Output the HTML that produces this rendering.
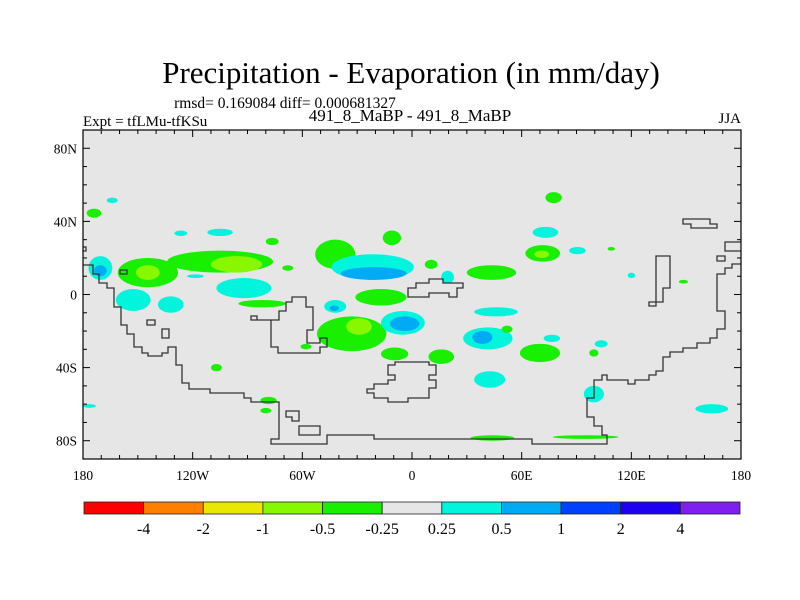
<!DOCTYPE html>
<html><head><meta charset="utf-8"><style>
html,body{margin:0;padding:0;background:#fff}
svg{display:block}
text{font-family:"Liberation Serif",serif;fill:#000}
</style></head><body>
<svg id="chart" width="800" height="600" viewBox="0 0 800 600">
<text x="411" y="83" font-size="31" text-anchor="middle">Precipitation - Evaporation (in mm/day)</text>
<text x="285" y="108" font-size="15.5" text-anchor="middle">rmsd= 0.169084 diff= 0.000681327</text>
<text x="410" y="121" font-size="17" text-anchor="middle">491_8_MaBP - 491_8_MaBP</text>
<text x="83" y="126" font-size="15">Expt = tfLMu-tfKSu</text>
<text x="741" y="123" font-size="15" text-anchor="end">JJA</text>
<g id="plot">
<rect x="83" y="130" width="658" height="329" fill="#e6e6e6"/>
<g id="blobs"></g>
<g id="coast" fill="none" stroke="#333" stroke-width="1.3">
<polyline points="83,265 93,265 93,274 99,274 99,283 107,283 107,288 114,288 114,307 121,307 121,325 127,325 127,334 134,334 134,347 142,347 142,353 148,353 148,356 162,356 162,353 168,353 168,347 176,347 176,365 182,365 182,383 189,383 189,389 210,389 210,393 244,393 244,398 251,398 251,402 279,402 279,439 271,439 271,444 327,444 327,435 374,435 374,439 532,439 532,444 607,444 607,435 602,435 602,426 594,426 594,417 587,417 587,398 594,398 594,380 602,380 602,375 607,375 607,380 628,380 628,384 635,384 635,380 649,380 649,375 656,375 656,371 663,371 663,357 670,357 670,352 683,352 683,348 697,348 697,343 710,343 710,338 717,338 717,329 725,329 725,311 717,311 717,274 725,274 725,268 732,268 732,264 741,264"/>
<polygon points="120,270 127,270 127,274 120,274"/>
<polygon points="147,320 155,320 155,325 147,325"/>
<polygon points="162,329 169,329 169,338 162,338"/>
<polygon points="251,316 257,316 257,320 271,320 271,347 278,347 278,353 320,353 320,347 327,347 327,338 320,338 320,343 307,343 307,330 313,330 313,307 306,307 306,297 292,297 292,302 286,302 286,311 279,311 279,320 257,320 251,320"/>
<polygon points="408,288 408,297 429,297 429,293 449,293 449,297 457,297 457,288 463,288 463,283 443,283 443,279 429,279 429,283 416,283 416,288"/>
<polygon points="395,362 429,362 429,365 436,365 436,375 429,375 429,380 436,380 436,388 429,388 429,398 408,398 408,402 388,402 388,398 374,398 374,393 367,393 367,389 374,389 374,384 388,384 388,380 395,380 395,375 388,375 388,365 395,365"/>
<polygon points="286,411 299,411 299,421 292,421 292,417 286,417"/>
<polygon points="299,426 320,426 320,435 299,435"/>
<polygon points="656,256 670,256 670,288 663,288 663,302 656,302 656,306 649,306 649,302 656,302"/>
<polygon points="683,219 710,219 710,224 717,224 717,228 691,228 691,224 683,224"/>
<polyline points="741,242 725,242 725,251 741,251"/>
<polygon points="717,256 725,256 725,261 717,261"/>
<polyline points="83,247 86,247 86,251 83,251"/>
</g>
<rect x="83" y="130" width="658" height="329" fill="none" stroke="#000" stroke-width="1.2"/>
<g id="ticks" stroke="#000" stroke-width="1"></g>
<g id="labels" font-size="13.5"></g>
</g>
<g id="colorbar"></g>
</svg>
<script>
// contour levels and colors
const levels = [-4,-2,-1,-0.5,-0.25,0.25,0.5,1,2,4];
const levelLabels = ["-4","-2","-1","-0.5","-0.25","0.25","0.5","1","2","4"];
const fillColors = ["#ff0000","#ff8000","#e8e800","#88f800","#18f000","#e6e6e6","#00f5dc","#00aaf5","#0040ff","#2000f0","#8020f0"];
// blobs: lon range, lat range, value
const blobLon0 = [-167,-178,-161,-151,-134,-110,-177,-174,-162,-139,-107,-112,-130,-95,-53,-16,-44,-39,-31,-52,-36,-17,-12,-48,-45,-17,9,30,16,34,28,33,49,73,66,62,67,86,107,72,59,97,100,34,94,155,32,77,146,118,-110,-83,-83,-180,-80,-71,-123,7,-61];
const blobLon1 = [-161,-170,-128,-138,-76,-82,-164,-167,-143,-125,-77,-98,-123,-69,-31,-6,1,-3,-3,-14,-22,7,4,-36,-40,-2,23,57,23,58,55,44,55,82,80,81,75,95,111,81,81,102,107,51,105,173,56,113,151,122,-104,-74,-77,-173,-73,-65,-114,14,-55];
const blobLat0 = [53,47,20,16,24,21,21,16,3,-1,9,36,35,-3,30,35,22,15,3,-12,-13,-9,-12,-3,-6,-29,-30,16,13,-7,-18,-20,-17,56,37,27,24,26,26,-22,-27,-30,-25,-42,-50,-60,-77,-77,8,12,-38,-56,-62,-60,31,16,11,19,-27];
const blobLat1 = [50,42,4,8,12,12,8,10,-9,-10,-2,32,32,-7,14,27,8,8,-6,-31,-22,-22,-20,-10,-9,-36,-38,8,6,-12,-30,-27,-21,50,31,18,20,22,24,-26,-37,-34,-29,-51,-59,-65,-80,-79,6,9,-42,-60,-65,-62,27,13,9,14,-30];
const blobVal = [0.4,-0.4,-0.4,-0.7,-0.4,-0.7,0.4,0.7,0.4,0.4,0.4,0.4,0.4,-0.4,-0.4,-0.4,0.4,0.7,-0.4,-0.4,-0.7,0.4,0.7,0.4,0.7,-0.4,-0.4,-0.4,0.4,0.4,0.4,0.7,-0.4,-0.4,0.4,-0.4,-0.7,0.4,-0.4,0.4,-0.4,-0.4,0.4,0.4,0.4,0.4,-0.4,-0.4,-0.4,0.4,-0.4,-0.4,-0.4,0.4,-0.4,-0.4,0.4,-0.4,-0.4];
const lonTicks = [-180,-120,-60,0,60,120,180];
const lonTickLabels = ["180","120W","60W","0","60E","120E","180"];
const latTicks = [80,40,0,-40,-80];
const latTickLabels = ["80N","40N","0","40S","80S"];

const NS='http://www.w3.org/2000/svg';
const X0=83,X1=741,Y0=130,Y1=459;
const xS = lon => X0 + (lon+180)/360*(X1-X0);
const yS = lat => Y0 + (90-lat)/180*(Y1-Y0);
function colorFor(v){let i=0;while(i<levels.length&&v>=levels[i])i++;return fillColors[i];}
function mk(tag,parent){const e=document.createElementNS(NS,tag);parent.appendChild(e);return e;}

const bg=document.getElementById('blobs');
const order=blobVal.map((v,i)=>i).sort((a,b)=>Math.abs(blobVal[a])-Math.abs(blobVal[b]));
order.forEach(i=>{
  const e=mk('ellipse',bg);
  
  
  const xa=xS(blobLon0[i]),xb=xS(blobLon1[i]),ya=yS(blobLat0[i]),yb=yS(blobLat1[i]);
  e.setAttribute('cx',(xa+xb)/2);e.setAttribute('cy',(ya+yb)/2);
  e.setAttribute('rx',Math.abs(xb-xa)/2);e.setAttribute('ry',Math.abs(yb-ya)/2);
  e.setAttribute('fill',colorFor(blobVal[i]));
});

const tg=document.getElementById('ticks'), lg=document.getElementById('labels');
for(let lon=-180;lon<=180;lon+=10){
  const major=lonTicks.includes(lon), L=major?7:4, x=xS(lon);
  [[Y1,Y1-L],[Y0,Y0+L]].forEach(p=>{const t=mk('line',tg);
    
    
    t.setAttribute('x1',x);t.setAttribute('x2',x);t.setAttribute('y1',p[0]);t.setAttribute('y2',p[1]);});
}
for(let lat=-90;lat<=90;lat+=10){
  const major=latTicks.includes(lat), L=major?7:4, y=yS(lat);
  [[X0,X0+L],[X1,X1-L]].forEach(p=>{const t=mk('line',tg);
    
    
    t.setAttribute('y1',y);t.setAttribute('y2',y);t.setAttribute('x1',p[0]);t.setAttribute('x2',p[1]);});
}
lonTicks.forEach((lon,i)=>{const t=mk('text',lg);
  
  
  t.setAttribute('x',xS(lon));t.setAttribute('y',480);t.setAttribute('text-anchor','middle');t.textContent=lonTickLabels[i];});
latTicks.forEach((lat,i)=>{const t=mk('text',lg);
  
  
  t.setAttribute('x',77);t.setAttribute('y',yS(lat)+5);t.setAttribute('text-anchor','end');t.textContent=latTickLabels[i];});

const cb=document.getElementById('colorbar');
const CB0=84,CB1=740,n=fillColors.length,w=(CB1-CB0)/n;
fillColors.forEach((c,i)=>{const r=mk('rect',cb);
  
  
  r.setAttribute('x',CB0+i*w);r.setAttribute('y',502);r.setAttribute('width',w);r.setAttribute('height',12);
  r.setAttribute('fill',c);r.setAttribute('stroke','#222');r.setAttribute('stroke-width','0.8');});
levelLabels.forEach((s,i)=>{const t=mk('text',cb);
  
  
  t.setAttribute('x',CB0+(i+1)*w);t.setAttribute('y',534);t.setAttribute('text-anchor','middle');t.setAttribute('font-size','16');t.textContent=s;});
</script>
</body></html>
